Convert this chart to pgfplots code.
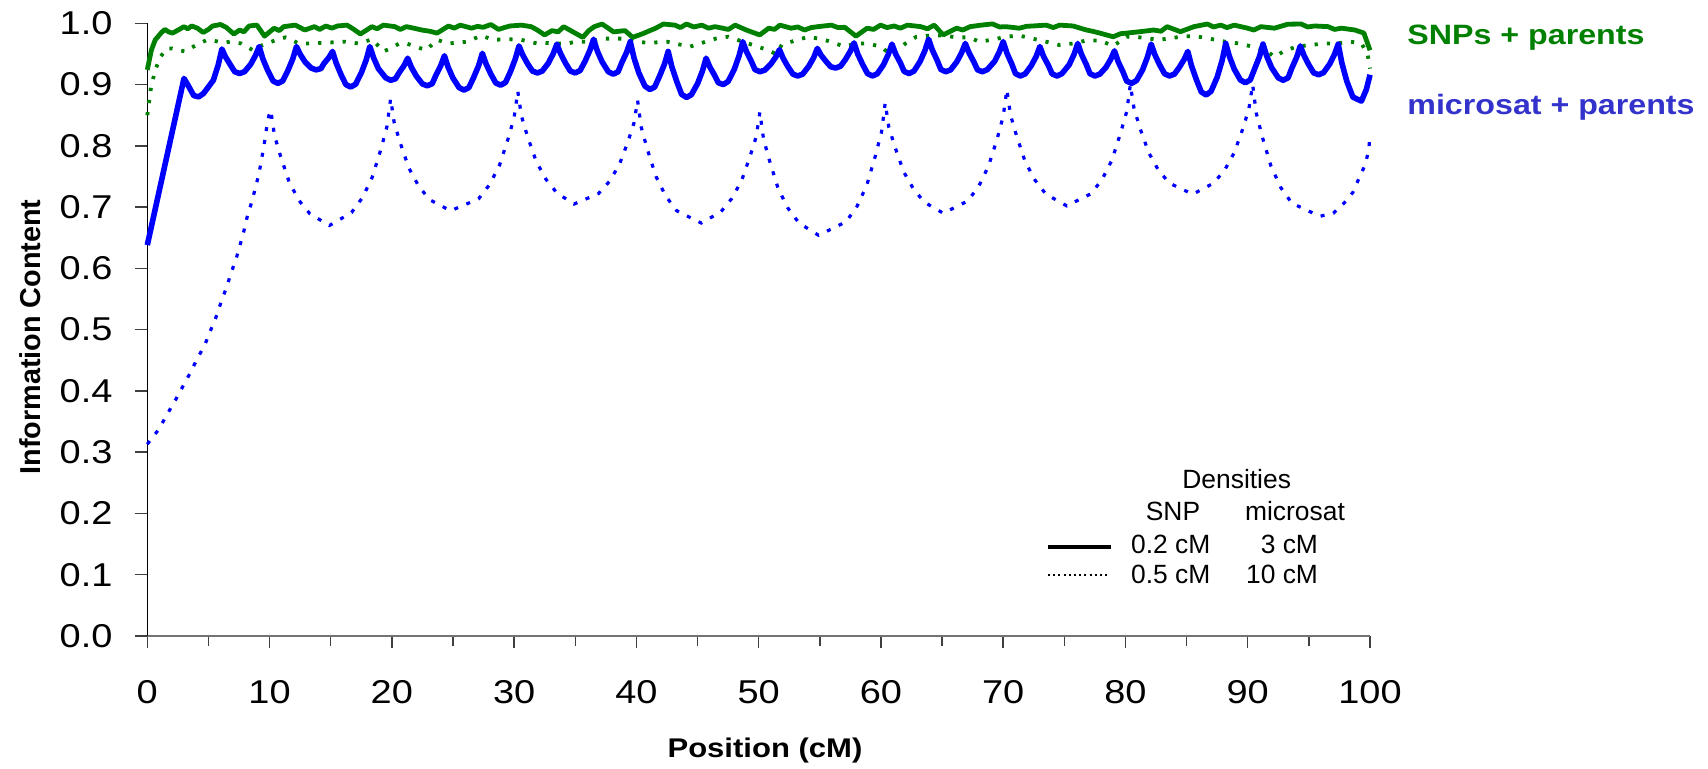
\documentclass[border=0pt]{standalone}
\usepackage{pgfplots}
\pgfplotsset{compat=1.18}
\usepackage{fontspec}
\setmainfont{Liberation Sans}
\newfontfamily\stretchfont{Liberation Sans}[FakeStretch=1.15]
\newcommand\tickfont{\stretchfont\fontsize{16.5}{18}\selectfont}
\newcommand\xlabfont{\stretchfont\bfseries\fontsize{13.5}{15}\selectfont}
\newcommand\ylabfont{\bfseries\fontsize{14.4}{16}\selectfont}
\newcommand\annfont{\stretchfont\bfseries\fontsize{14}{16}\selectfont}
\newcommand\legfont{\fontsize{13.2}{15}\selectfont}
\definecolor{snpgreen}{RGB}{0,128,0}
\definecolor{msblue}{RGB}{0,0,255}
\definecolor{msblueText}{RGB}{51,51,204}
\begin{document}
\begin{tikzpicture}
\path[use as bounding box] (0,0) rectangle (854pt,384.5pt);
\begin{axis}[
  at={(73.65pt,66.5pt)}, anchor=south west,
  scale only axis, width=611.35pt, height=306.35pt,
  xmin=0, xmax=100, ymin=0, ymax=1,
  axis lines=left, axis line style={-},
  x axis line style={black!55, line width=0.9pt},
  y axis line style={black, line width=0.8pt},
  xtick={0,10,20,30,40,50,60,70,80,90,100},
  minor xtick={5,15,25,35,45,55,65,75,85,95},
  ytick={0,0.1,0.2,0.3,0.4,0.5,0.6,0.7,0.8,0.9,1},
  tick align=outside,
  major tick length=6.2pt, minor tick length=4.8pt,
  tick style={black!75, line width=0.75pt},
  /pgf/number format/assume math mode=true,
  yticklabel style={/pgf/number format/.cd, fixed, fixed zerofill, precision=1, /tikz/.cd, font=\tickfont, inner sep=0pt, anchor=east, xshift=-11pt},
  xticklabel style={font=\tickfont, inner sep=0pt, anchor=north, yshift=-16pt},
  clip=false,
]
% microsat 10 cM (dotted blue)
\addplot[msblue, line width=1.6pt, dash pattern=on 2pt off 4.5pt] coordinates {
(0,0.313) (0.93,0.337) (1.6,0.361) (2.3,0.385) (2.98,0.41) (3.5,0.429) (4.07,0.452) (4.7,0.475) (5.16,0.498) (5.63,0.521) (6.07,0.547) (6.48,0.569) (6.86,0.593) (7.27,0.616) (7.57,0.637) (7.9,0.661) (8.17,0.684) (8.55,0.709) (9.13,0.754) (9.54,0.80) (9.73,0.826) (9.94,0.849) (10.1,0.858)
(10.4,0.817) (10.9,0.783) (11.6,0.741) (12.4,0.711) (13.3,0.689) (14.9,0.670) (16.7,0.691) (17.6,0.7155) (18.4,0.749) (19.1,0.794) (19.6,0.8315) (19.9,0.877)
(20.2,0.837) (20.7,0.804) (21.4,0.7635) (22.2,0.734) (23.1,0.712) (24.8,0.694) (27.1,0.7135) (28.0,0.737) (28.8,0.768) (29.5,0.811) (30.0,0.846) (30.3,0.889)
(30.6,0.8485) (31.1,0.815) (31.8,0.775) (32.6,0.7455) (33.5,0.723) (34.9,0.705) (36.9,0.722) (37.8,0.742) (38.6,0.769) (39.3,0.806) (39.8,0.837) (40.1,0.874)
(40.4,0.830) (40.9,0.794) (41.6,0.750) (42.4,0.718) (43.3,0.694) (45.3,0.674) (46.9,0.692) (47.8,0.714) (48.6,0.743) (49.3,0.783) (49.8,0.815) (50.1,0.855)
(50.4,0.811) (50.9,0.775) (51.6,0.730) (52.4,0.698) (53.3,0.674) (54.9,0.654) (57.15,0.676) (58.05,0.7015) (58.85,0.736) (59.55,0.784) (60.05,0.8225) (60.35,0.870)
(60.65,0.830) (61.15,0.798) (61.85,0.758) (62.65,0.730) (63.55,0.708) (65.1,0.690) (67.1,0.710) (68.0,0.734) (68.8,0.767) (69.5,0.811) (70.0,0.848) (70.3,0.892)
(70.6,0.850) (71.1,0.816) (71.8,0.774) (72.6,0.744) (73.5,0.721) (75.2,0.702) (77.2,0.722) (78.1,0.7455) (78.9,0.777) (79.6,0.821) (80.1,0.856) (80.4,0.900)
(80.7,0.861) (81.2,0.828) (81.9,0.789) (82.7,0.760) (83.6,0.739) (85.5,0.721) (87.2,0.739) (88.1,0.760) (88.9,0.789) (89.6,0.828) (90.1,0.861) (90.4,0.900)
(90.7,0.853) (91.2,0.814) (91.9,0.767) (92.7,0.732) (93.6,0.7065) (95.9,0.685) (97.0,0.690) (97.9,0.707) (98.6,0.724) (99.1,0.747) (99.6,0.769) (99.9,0.793) (100,0.82)
};
% SNP 0.5 cM (dotted green)
\addplot[snpgreen, line width=1.9pt, dash pattern=on 1.6pt off 4.5pt] coordinates {
(0,0.850) (0.3,0.895) (0.65,0.924) (1.1,0.946) (1.6,0.959) (2.06,0.959) (2.53,0.956) (3.15,0.954) (3.78,0.962) (4.88,0.973) (5.35,0.972) (6.29,0.968) (6.76,0.970) (7.7,0.967) (8.64,0.956) (9.12,0.962) (9.9,0.968) (10.7,0.974) (11.3,0.977) (12.4,0.967) (13.35,0.967) (14.3,0.968) (16.2,0.970) (17.3,0.967) (18.4,0.974) (19.3,0.954) (19.9,0.959) (20.6,0.967) (21.2,0.967) (21.8,0.963) (22.8,0.956) (23.7,0.973) (24.6,0.967) (26.2,0.970) (27.3,0.980) (28.3,0.973) (29.5,0.974) (30.6,0.973) (31.2,0.970) (31.9,0.967) (32.5,0.968) (33.4,0.967) (34.4,0.967) (35.0,0.970) (36.25,0.970) (37.2,0.975) (38.8,0.975) (40.0,0.970) (41.0,0.968) (42.5,0.970) (43.1,0.967) (44.4,0.962) (45.35,0.968) (46.5,0.975) (47.5,0.978) (49.0,0.968) (49.9,0.962) (50.8,0.956) (51.4,0.950) (51.9,0.965) (53.0,0.972) (54.1,0.978) (55.4,0.973) (56.3,0.967) (57.0,0.962) (58.0,0.967) (58.9,0.967) (60.0,0.962) (60.7,0.950) (61.4,0.956) (62.0,0.967) (62.9,0.978) (64.0,0.980) (65.1,0.980) (66.2,0.977) (67.3,0.977) (68.0,0.970) (69.1,0.973) (70.2,0.978) (71.3,0.980) (72.4,0.975) (73.5,0.970) (74.6,0.9645) (75.7,0.967) (76.8,0.972) (77.9,0.972) (79.0,0.963) (80.1,0.978) (81.2,0.977) (82.7,0.973) (83.8,0.976) (84.9,0.979) (86.0,0.978) (87.1,0.974) (88.15,0.970) (89.3,0.967) (90.35,0.962) (91.45,0.956) (92.2,0.945) (92.9,0.954) (94.0,0.962) (95.1,0.9645) (96.2,0.967) (97.3,0.967) (98.4,0.970) (99.3,0.967) (99.8,0.950) (100,0.926)
};
% SNP 0.2 cM (solid green)
\addplot[snpgreen, line width=2.4pt, line join=round] coordinates {
(0,0.924) (0.33,0.956) (0.65,0.973) (1.12,0.984) (1.43,0.990) (1.74,0.986) (2.06,0.984) (2.53,0.989) (3.0,0.9945) (3.3,0.991) (3.63,0.9956) (4.1,0.992) (4.57,0.985) (5.0,0.990) (5.35,0.9956) (5.98,0.998) (6.45,0.9934) (7.08,0.9825) (7.55,0.989) (7.9,0.986) (8.33,0.9956) (8.96,0.997) (9.59,0.979) (10.37,0.992) (10.8,0.988) (11.15,0.9945) (12.1,0.997) (12.5,0.993) (12.88,0.989) (13.66,0.9945) (14.1,0.990) (14.6,0.9956) (15.1,0.992) (15.55,0.9956) (16.33,0.997) (16.9,0.990) (17.43,0.9825) (18.37,0.9945) (18.8,0.991) (19.31,0.997) (20.25,0.9945) (20.7,0.990) (21.19,0.9945) (21.8,0.992) (22.45,0.989) (23.1,0.987) (23.7,0.984) (24.64,0.9956) (25.1,0.992) (25.59,0.997) (26.53,0.992) (27.0,0.995) (27.47,0.9934) (28.1,0.998) (28.72,0.990) (29.2,0.993) (29.66,0.9956) (30.6,0.997) (31.39,0.9945) (31.9,0.989) (32.49,0.981) (33.1,0.988) (33.6,0.986) (34.05,0.9945) (34.99,0.984) (35.62,0.977) (36.1,0.988) (36.56,0.9945) (37.19,0.9988) (37.7,0.992) (38.13,0.986) (39.07,0.988) (39.7,0.977) (40.64,0.984) (41.1,0.988) (41.58,0.992) (42.21,0.9988) (43.15,0.997) (43.6,0.993) (44.1,0.9988) (44.7,0.994) (45.35,0.997) (45.9,0.992) (46.43,0.9945) (47.53,0.990) (48.08,0.997) (48.99,0.989) (50.09,0.981) (50.82,0.992) (51.3,0.990) (51.74,0.997) (52.65,0.992) (53.2,0.994) (53.75,0.989) (54.3,0.993) (54.85,0.9945) (55.94,0.997) (56.5,0.993) (57.04,0.9934) (57.96,0.979) (58.87,0.992) (59.4,0.990) (59.97,0.997) (60.5,0.993) (61.07,0.9956) (61.6,0.992) (62.17,0.997) (63.26,0.9945) (63.8,0.991) (64.36,0.997) (65.09,0.981) (66.19,0.992) (66.7,0.989) (67.29,0.9945) (68.2,0.997) (69.12,0.999) (69.7,0.994) (70.22,0.9945) (71.32,0.992) (71.9,0.995) (72.41,0.9956) (73.51,0.997) (74.1,0.993) (74.61,0.997) (75.71,0.9956) (76.81,0.989) (77.3,0.987) (77.9,0.984) (79.0,0.978) (79.6,0.983) (80.1,0.984) (81.2,0.9863) (82.3,0.989) (82.9,0.987) (83.4,0.9945) (84.5,0.9863) (85.6,0.9945) (86.7,0.9988) (87.2,0.994) (87.8,0.997) (88.3,0.993) (88.9,0.997) (89.98,0.992) (90.5,0.989) (91.08,0.9945) (92.18,0.992) (93.28,0.9985) (94.37,0.9988) (94.9,0.994) (95.47,0.9956) (96.57,0.9945) (97.1,0.990) (97.67,0.992) (98.77,0.989) (99.5,0.984) (100,0.956)
};
% microsat 3 cM (solid blue)
\addplot[msblue, line width=2.8pt, line join=round] coordinates {
(0,0.638) (3.0,0.910)
(3.3,0.900) (3.8,0.882) (4.2,0.880) (4.6,0.8855) (5.4,0.907) (5.8,0.932) (6.1,0.958)
(6.4,0.945) (6.8,0.932) (7.15,0.921) (7.55,0.918) (7.95,0.921) (8.45,0.933) (8.85,0.9475) (9.15,0.962)
(9.45,0.942) (9.85,0.923) (10.28,0.906) (10.68,0.902) (11.08,0.906) (11.5,0.923) (11.9,0.942) (12.2,0.962)
(12.5,0.9495) (12.9,0.937) (13.4,0.927) (13.8,0.924) (14.2,0.926) (14.45,0.9345) (14.85,0.944) (15.15,0.954)
(15.45,0.935) (15.85,0.916) (16.24,0.900) (16.64,0.896) (17.04,0.9006) (17.5,0.919) (17.9,0.940) (18.2,0.962)
(18.5,0.944) (18.9,0.926) (19.5,0.911) (19.9,0.907) (20.3,0.9095) (20.6,0.9195) (21.0,0.931) (21.3,0.943)
(21.6,0.928) (22.0,0.914) (22.5,0.901) (22.9,0.898) (23.3,0.9014) (23.6,0.915) (24.0,0.931) (24.3,0.947)
(24.6,0.9285) (25.0,0.9106) (25.5,0.895) (25.9,0.891) (26.3,0.895) (26.7,0.912) (27.1,0.931) (27.4,0.951)
(27.7,0.934) (28.1,0.917) (28.5,0.9026) (28.9,0.899) (29.3,0.9035) (29.7,0.921) (30.1,0.942) (30.4,0.963)
(30.7,0.9485) (31.1,0.934) (31.5,0.922) (31.9,0.919) (32.3,0.922) (32.8,0.935) (33.2,0.9505) (33.5,0.966)
(33.8,0.9505) (34.2,0.935) (34.6,0.922) (35.0,0.919) (35.4,0.923) (35.8,0.938) (36.2,0.956) (36.5,0.974)
(36.8,0.955) (37.2,0.937) (37.7,0.921) (38.1,0.917) (38.5,0.9207) (38.8,0.9355) (39.2,0.9525) (39.5,0.970)
(39.8,0.944) (40.2,0.919) (40.7,0.8975) (41.1,0.892) (41.5,0.896) (41.9,0.914) (42.3,0.9335) (42.6,0.954)
(42.9,0.929) (43.3,0.905) (43.7,0.884) (44.1,0.879) (44.5,0.8835) (45.0,0.9014) (45.4,0.922) (45.7,0.943)
(46.0,0.929) (46.4,0.915) (46.7,0.903) (47.1,0.900) (47.5,0.905) (48.0,0.9245) (48.4,0.947) (48.7,0.970)
(49.0,0.954) (49.4,0.938) (49.7,0.9244) (50.1,0.921) (50.5,0.9235) (51.0,0.9336) (51.4,0.945) (51.7,0.957)
(52.0,0.943) (52.4,0.929) (52.8,0.917) (53.2,0.914) (53.6,0.917) (54.1,0.930) (54.5,0.944) (54.8,0.959)
(55.1,0.948) (55.5,0.938) (55.9,0.929) (56.3,0.927) (56.7,0.930) (57.1,0.941) (57.5,0.9545) (57.8,0.968)
(58.1,0.950) (58.5,0.933) (58.9,0.918) (59.3,0.914) (59.7,0.9176) (60.2,0.932) (60.6,0.949) (60.9,0.966)
(61.2,0.950) (61.6,0.935) (61.9,0.9214) (62.3,0.918) (62.7,0.922) (63.2,0.9376) (63.6,0.9555) (63.9,0.974)
(64.2,0.9565) (64.6,0.9395) (64.9,0.9247) (65.3,0.921) (65.7,0.924) (66.2,0.937) (66.6,0.952) (66.9,0.967)
(67.2,0.952) (67.6,0.937) (67.9,0.924) (68.3,0.921) (68.7,0.9244) (69.3,0.938) (69.7,0.954) (70.0,0.970)
(70.3,0.9515) (70.7,0.9336) (71.0,0.918) (71.4,0.914) (71.8,0.9174) (72.3,0.931) (72.7,0.946) (73.0,0.962)
(73.3,0.946) (73.7,0.931) (74.0,0.9174) (74.4,0.914) (74.8,0.9177) (75.4,0.9325) (75.8,0.9495) (76.1,0.967)
(76.4,0.9495) (76.8,0.9325) (77.1,0.9177) (77.5,0.914) (77.9,0.917) (78.4,0.928) (78.8,0.9415) (79.1,0.955)
(79.4,0.9375) (79.8,0.9205) (80.1,0.9057) (80.5,0.902) (80.9,0.9065) (81.4,0.924) (81.8,0.945) (82.1,0.966)
(82.4,0.949) (82.8,0.932) (83.2,0.9176) (83.6,0.914) (84.0,0.917) (84.4,0.928) (84.8,0.941) (85.1,0.954)
(85.4,0.9306) (85.8,0.908) (86.2,0.888) (86.6,0.883) (87.0,0.889) (87.5,0.912) (87.9,0.939) (88.2,0.967)
(88.5,0.946) (88.9,0.925) (89.4,0.9075) (89.8,0.903) (90.2,0.9074) (90.55,0.925) (90.95,0.945) (91.25,0.966)
(91.55,0.9465) (91.95,0.9276) (92.5,0.911) (92.9,0.907) (93.3,0.911) (93.6,0.9266) (94.0,0.9445) (94.3,0.963)
(94.6,0.9475) (95.0,0.932) (95.4,0.919) (95.8,0.916) (96.2,0.9195) (96.7,0.9335) (97.1,0.9495) (97.4,0.966)
(97.7,0.935) (98.1,0.9055) (98.6,0.8795) (99.3,0.873) (99.7,0.892) (100,0.916)
};
% legend line samples
\addplot[black, line width=2.2pt, forget plot] coordinates {(73.66,0.1448) (78.82,0.1448)};
\addplot[black, line width=1pt, dash pattern=on 1pt off 1.6pt, forget plot] coordinates {(73.66,0.0996) (78.57,0.0996)};
\end{axis}
\node[font=\ylabfont, rotate=90, inner sep=0pt] at (15pt,216pt) {Information Content};
\node[font=\xlabfont, anchor=base, inner sep=0pt] at (382.5pt,5.5pt) {Position (cM)};
\node[font=\annfont, text=snpgreen, anchor=base west, inner sep=0pt] at (703.5pt,362pt) {SNPs + parents};
\node[font=\annfont, text=msblueText, anchor=base west, inner sep=0pt] at (703.5pt,327pt) {microsat + parents};
\node[font=\legfont, anchor=base, inner sep=0pt] at (618.35pt,140.3pt) {Densities};
\node[font=\legfont, anchor=base, inner sep=0pt] at (586.5pt,124.2pt) {SNP};
\node[font=\legfont, anchor=base, inner sep=0pt] at (647.5pt,124.2pt) {microsat};
\node[font=\legfont, anchor=base, inner sep=0pt] at (585.4pt,107.8pt) {0.2 cM};
\node[font=\legfont, anchor=base east, inner sep=0pt] at (659.2pt,107.8pt) {3 cM};
\node[font=\legfont, anchor=base, inner sep=0pt] at (585.4pt,92.5pt) {0.5 cM};
\node[font=\legfont, anchor=base east, inner sep=0pt] at (659.2pt,92.5pt) {10 cM};
\end{tikzpicture}
\end{document}
